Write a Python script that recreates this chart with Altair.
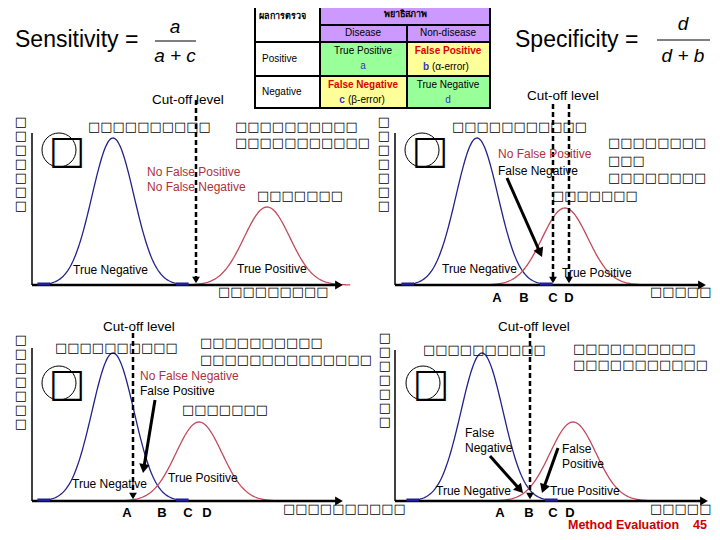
import math
import altair as alt
import numpy as np
import pandas as pd

M = 8
W, H = 720, 540
FONT = "Liberation Sans"
TOFU = "DejaVu Sans"
RED_TXT = "#b0303c"
BLUE_TXT = "#3333cc"

# ---------------- table ----------------
col_edges = [255, 320, 407, 490]
row_edges = [4, 25, 42, 76, 108]
cell_span = [(0, 1, 0, 2), (1, 3, 0, 1), (1, 2, 1, 2), (2, 3, 1, 2), (0, 1, 2, 3),
             (1, 2, 2, 3), (2, 3, 2, 3), (0, 1, 3, 4), (1, 2, 3, 4), (2, 3, 3, 4)]
cell_fill = ["white", "#cc99ff", "#cc99ff", "#cc99ff", "white",
             "#99ff99", "#ffff99", "white", "#ffff99", "#99ff99"]

# ---------------- panels ----------------
pan_left = [32, 395, 32, 395]
pan_right = [342, 705, 342, 707]
pan_base = [285, 285, 501, 501]
pan_top = [133, 133, 348, 350]
blue_mu = [113, 477, 113, 482]
blue_peak = [138, 138, 353, 353]
red_mu = [267, 565, 199, 573]
red_peak = [207, 208, 422, 422]
sd_blue = 21
sd_red = 23
BLUE = "#22228c"
REDC = "#c24a5c"

cut_x = [196, 553, 569, 133, 530]
cut_top = [100, 104, 104, 333, 333]
cut_bottom = [281, 281, 281, 497, 497]

arrows = [(507, 178, 542, 257), (155, 400, 143, 473), (490, 456, 523, 493), (558, 448, 542, 493)]

circle_x = [59, 422, 59, 423]
circle_y = [150, 150, 383, 383]

# ---------------- texts ----------------
# (text, x, y, size, color)
plain_left = [
    ("Sensitivity =", 15, 40, 23, "black"),
    ("Specificity =", 515, 40, 23, "black"),
    ("Cut-off level", 152, 100, 13.5, "black"),
    ("Cut-off level", 527, 96, 13.5, "black"),
    ("Cut-off level", 103, 327, 13.5, "black"),
    ("Cut-off level", 498, 327, 13.5, "black"),
    ("No False Positive", 147, 172, 12, RED_TXT),
    ("No False Negative", 147, 187, 12, RED_TXT),
    ("True Negative", 73, 270, 12, "black"),
    ("True Positive", 237, 269, 12, "black"),
    ("No False Positive", 498, 154, 12, RED_TXT),
    ("False Negative", 498, 171, 12, "black"),
    ("True Negative", 442, 269, 12, "black"),
    ("True Positive", 562, 273, 12, "black"),
    ("No False Negative", 140, 376, 12, RED_TXT),
    ("False Positive", 140, 391, 12, "black"),
    ("True Negative", 72, 484, 12, "black"),
    ("True Positive", 168, 478, 12, "black"),
    ("False", 465, 433, 12, "black"),
    ("Negative", 465, 448, 12, "black"),
    ("False", 562, 449, 12, "black"),
    ("Positive", 562, 464, 12, "black"),
    ("True Negative", 436, 491, 12, "black"),
    ("True Positive", 550, 491, 12, "black"),
    ("Positive", 262, 59, 10, "black"),
    ("Negative", 262, 92, 10, "black"),
    ("(α-error)", 432, 67, 10, "black"),
    ("(β-error)", 348, 100, 10, "black"),
]
plain_center = [
    ("Disease", 363, 33, 10, "black"),
    ("Non-disease", 448, 33, 10, "black"),
    ("True Positive", 363, 51, 10, "black"),
    ("a", 363, 66, 10, BLUE_TXT),
    ("True Negative", 448, 85, 10, "black"),
    ("d", 448, 100, 10, BLUE_TXT),
]
bold_center = [
    ("False Positive", 448, 51, 10, "#dd0000"),
    ("False Negative", 363, 85, 10, "#dd0000"),
    ("b", 426, 67, 10, BLUE_TXT),
    ("c", 342, 100, 10, BLUE_TXT),
    ("พยาธิสภาพ", 405, 14, 9, "black"),
    ("A", 497, 298, 13, "black"), ("B", 524, 298, 13, "black"),
    ("C", 553, 298, 13, "black"), ("D", 569, 298, 13, "black"),
    ("A", 127, 513, 13, "black"), ("B", 162, 513, 13, "black"),
    ("C", 188, 513, 13, "black"), ("D", 207, 513, 13, "black"),
    ("A", 500, 513, 13, "black"), ("B", 529, 513, 13, "black"),
    ("C", 553, 513, 13, "black"), ("D", 570, 513, 13, "black"),
]
bold_left = [
    ("ผลการตรวจ", 259, 16, 9, "black"),
    ("Method Evaluation", 568, 525, 12.5, "#cc0000"),
    ("45", 693, 525, 12.5, "#cc0000"),
]
ital_center = [
    ("a", 175, 27, 19, "black"),
    ("a + c", 175, 56, 19, "black"),
    ("d", 683, 24, 19, "black"),
    ("d + b", 683, 56, 19, "black"),
]
frac_bars = [(155, 196, 41), (657, 710, 40)]

# missing-glyph boxes: (x_left, y, count)
tofu_reg = [(88, 127, 10), (257, 196, 7), (218, 292, 9), (452, 127, 11), (552, 196, 4),
            (650, 292, 5), (55, 348, 10), (182, 410, 7), (283, 509, 10), (423, 350, 10),
            (650, 509, 5)]
tofu_bold = [(235, 127, 10), (235, 143, 11), (608, 143, 8), (608, 161, 3), (608, 178, 8),
             (601, 196, 3), (200, 343, 10), (200, 360, 14), (573, 349, 10), (573, 365, 11)]
tofu_col = [(21, 122, 7), (384, 122, 7), (21, 340, 7), (385, 338, 7)]
BOX = "\u25a1"

# ---------------- scales ----------------
X = lambda f: alt.X(f, scale=alt.Scale(domain=[M, W - M], nice=False, zero=False), axis=None)
Y = lambda f: alt.Y(f, scale=alt.Scale(domain=[M, H - M], nice=False, zero=False, reverse=True), axis=None)

layers = []

# table cells
cells = pd.DataFrame([
    dict(x=col_edges[c0], x2=col_edges[c1], y=row_edges[r0], y2=row_edges[r1], fill=f)
    for (c0, c1, r0, r1), f in zip(cell_span, cell_fill)
])
layers.append(alt.Chart(cells).mark_rect(stroke="black", strokeWidth=2).encode(
    x=X("x:Q"), x2="x2", y=Y("y:Q"), y2="y2", fill=alt.Fill("fill:N", scale=None)))

# curves
rows = []
for p in range(4):
    for name, mu, peak, sd, col in (("b", blue_mu[p], blue_peak[p], sd_blue, BLUE),
                                    ("r", red_mu[p], red_peak[p], sd_red, REDC)):
        for xv in np.arange(mu - 3.6 * sd, mu + 3.6 * sd + 0.5, 1.0):
            z = (xv - mu) / sd
            rows.append(dict(x=xv, y=pan_base[p] - (pan_base[p] - peak) * math.exp(-0.5 * z * z),
                             s=f"{p}{name}", color=col))
curves = pd.DataFrame(rows)
layers.append(alt.Chart(curves).mark_line(strokeWidth=1.3).encode(
    x=X("x:Q"), y=Y("y:Q"), detail="s:N", color=alt.Color("color:N", scale=None)))

# solid segments: axes, fraction bars, arrows, blue tail marks
seg = []
for p in range(4):
    seg.append(dict(x=pan_left[p], y=pan_base[p], x2=pan_right[p] - 4, y2=pan_base[p], w=2.6, c="black"))
    seg.append(dict(x=pan_left[p], y=pan_top[p], x2=pan_left[p], y2=pan_base[p], w=1.5, c="black"))
    mu = blue_mu[p]
    seg.append(dict(x=mu - 3.6 * sd_blue, y=pan_base[p] - 1, x2=mu - 3.0 * sd_blue, y2=pan_base[p] - 1, w=3, c="#1f1f99"))
    seg.append(dict(x=mu + 3.0 * sd_blue, y=pan_base[p] - 1, x2=mu + 3.6 * sd_blue, y2=pan_base[p] - 1, w=3, c="#1f1f99"))
for x1, x2, yb in frac_bars:
    seg.append(dict(x=x1, y=yb, x2=x2, y2=yb, w=1, c="black"))
heads = []
for sx, sy, ex, ey in arrows:
    L = math.hypot(ex - sx, ey - sy)
    ux, uy = (ex - sx) / L, (ey - sy) / L
    seg.append(dict(x=sx, y=sy, x2=ex - 6 * ux, y2=ey - 6 * uy, w=3, c="black"))
    ang = math.degrees(math.atan2(ux, -uy)) % 360
    heads.append(dict(x=ex - 4.5 * ux, y=ey - 4.5 * uy, shape="triangle-up", a=ang, sz=110))
for p in range(4):
    heads.append(dict(x=pan_right[p] - 3, y=pan_base[p], shape="triangle-right", a=0, sz=80))
for cx, cb in zip(cut_x, cut_bottom):
    heads.append(dict(x=cx, y=cb - 1, shape="triangle-down", a=0, sz=60))
segs = pd.DataFrame(seg)
layers.append(alt.Chart(segs).mark_rule().encode(
    x=X("x:Q"), y=Y("y:Q"), x2="x2", y2="y2",
    strokeWidth=alt.StrokeWidth("w:Q", scale=None), color=alt.Color("c:N", scale=None)))

# dashed cut-off lines
cuts = pd.DataFrame(dict(x=cut_x, y=cut_top, y2=cut_bottom))
layers.append(alt.Chart(cuts).mark_rule(strokeDash=[5, 3], strokeWidth=2.5, color="black").encode(
    x=X("x:Q"), y=Y("y:Q"), y2="y2"))

# arrow heads
hd = pd.DataFrame(heads)
layers.append(alt.Chart(hd).mark_point(filled=True, color="black", opacity=1).encode(
    x=X("x:Q"), y=Y("y:Q"), shape=alt.Shape("shape:N", scale=None),
    angle=alt.Angle("a:Q", scale=None), size=alt.Size("sz:Q", scale=None)))

# circles
circ = pd.DataFrame(dict(x=circle_x, y=circle_y))
layers.append(alt.Chart(circ).mark_point(shape="circle", size=1156, filled=False, color="black",
                                          strokeWidth=1, opacity=1).encode(x=X("x:Q"), y=Y("y:Q")))


def text_layer(items, font, weight="normal", style="normal", align="left", **extra):
    df = pd.DataFrame(items, columns=["text", "x", "y", "size", "color"])
    return alt.Chart(df).mark_text(font=font, fontWeight=weight, fontStyle=style, align=align,
                                   baseline="middle", **extra).encode(
        x=X("x:Q"), y=Y("y:Q"), text="text:N",
        size=alt.Size("size:Q", scale=None), color=alt.Color("color:N", scale=None))


layers.append(text_layer(plain_left, FONT))
layers.append(text_layer(plain_center, FONT, align="center"))
layers.append(text_layer(bold_center, FONT, weight="bold", align="center"))
layers.append(text_layer(bold_left, FONT, weight="bold"))
layers.append(text_layer(ital_center, FONT, style="italic", align="center"))
layers.append(text_layer([(BOX * n, x, y, 13, "black") for x, y, n in tofu_reg], TOFU))
layers.append(text_layer([(BOX * n, x, y, 13, "black") for x, y, n in tofu_bold], TOFU, weight="bold"))
layers.append(text_layer([("\n".join([BOX] * n), x, y, 13, "black") for x, y, n in tofu_col], TOFU,
                         align="center", lineBreak="\n", lineHeight=14))
layers.append(text_layer([(BOX, cx + 8, cy + 1, 39, "black") for cx, cy in zip(circle_x, circle_y)],
                         TOFU, weight="bold", align="center"))

chart = alt.layer(*layers).properties(
    width=W - 2 * M, height=H - 2 * M, padding=0,
    autosize=alt.AutoSizeParams(type="none"), background="white"
).configure_view(stroke=None)

chart.save("out.html", embed_options={"renderer": "svg", "actions": False})
